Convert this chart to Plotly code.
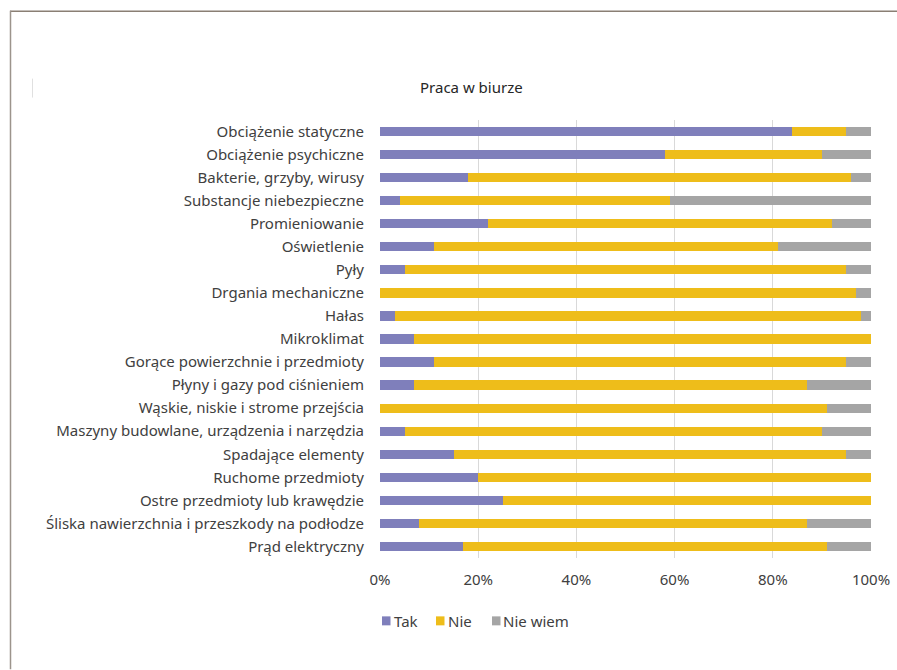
import plotly.graph_objects as go

categories = [
    "Obciążenie statyczne",
    "Obciążenie psychiczne",
    "Bakterie, grzyby, wirusy",
    "Substancje niebezpieczne",
    "Promieniowanie",
    "Oświetlenie",
    "Pyły",
    "Drgania mechaniczne",
    "Hałas",
    "Mikroklimat",
    "Gorące powierzchnie i przedmioty",
    "Płyny i gazy pod ciśnieniem",
    "Wąskie, niskie i strome przejścia",
    "Maszyny budowlane, urządzenia i narzędzia",
    "Spadające elementy",
    "Ruchome przedmioty",
    "Ostre przedmioty lub krawędzie",
    "Śliska nawierzchnia i przeszkody na podłodze",
    "Prąd elektryczny",
]
tak = [84, 58, 18, 4, 22, 11, 5, 0, 3, 7, 11, 7, 0, 5, 15, 20, 25, 8, 17]
nie = [11, 32, 78, 55, 70, 70, 90, 97, 95, 93, 84, 80, 91, 85, 80, 80, 75, 79, 74]
nie_wiem = [5, 10, 4, 41, 8, 19, 5, 3, 2, 0, 5, 13, 9, 10, 5, 0, 0, 13, 9]

series_names = ["Tak", "Nie", "Nie wiem"]
series_values = [tak, nie, nie_wiem]
series_colors = ["#7f7fbb", "#eebd1a", "#a5a5a5"]

W, H = 897, 670
L, R, T, B = 380, 871, 119.5, 558.5
pw, ph = R - L, B - T

def px(x):
    return (x - L) / pw

def py(y):
    return (B - y) / ph

font_family = "Noto Sans"
txt_col = "#404040"
fs = 15

fig = go.Figure()
for name, vals, col in zip(series_names, series_values, series_colors):
    fig.add_trace(go.Bar(
        y=categories, x=vals, name=name, orientation="h",
        marker=dict(color=col, line=dict(width=0)),
        showlegend=False,
    ))

# manual compact legend (squares + labels)
legend_sq_x = [382, 436, 492]
legend_txt_x = [391.5, 445.5, 501]
legend_y = 621.5
shapes = []
annotations = []
for name, col, sx, tx in zip(series_names, series_colors, legend_sq_x, legend_txt_x):
    shapes.append(dict(type="rect", xref="paper", yref="paper",
                       x0=px(sx), x1=px(sx + 8.5), y0=py(legend_y - 4.5), y1=py(legend_y + 4.5),
                       fillcolor=col, line=dict(width=0)))
    annotations.append(dict(text=name, x=px(tx), y=py(legend_y), xref="paper", yref="paper",
                            showarrow=False, xanchor="left", yanchor="middle",
                            font=dict(size=fs, color=txt_col)))

annotations.append(dict(text="Praca w biurze", x=px(471.5), y=py(86), xref="paper", yref="paper",
                        showarrow=False, xanchor="center", yanchor="middle",
                        font=dict(size=fs, color="#262626")))

shapes += [
    dict(type="line", xref="paper", yref="paper", x0=px(10), x1=px(897), y0=py(10.5), y1=py(10.5),
         line=dict(color="#8a7f74", width=1.5)),
    dict(type="line", xref="paper", yref="paper", x0=px(10.5), x1=px(10.5), y0=py(10), y1=py(670),
         line=dict(color="#9c948c", width=1.5)),
    dict(type="line", xref="paper", yref="paper", x0=px(32.5), x1=px(32.5), y0=py(78), y1=py(97),
         line=dict(color="#e0e0e0", width=1)),
]

fig.update_layout(
    width=W, height=H,
    barmode="stack",
    bargap=0.6,
    margin=dict(l=L, r=W - R, t=T, b=H - B, pad=0, autoexpand=False),
    paper_bgcolor="white",
    plot_bgcolor="white",
    font=dict(family=font_family, size=fs, color=txt_col),
    showlegend=False,
    xaxis=dict(
        range=[0, 100], tickvals=[0, 20, 40, 60, 80, 100],
        ticktext=["0%", "20%", "40%", "60%", "80%", "100%"],
        showgrid=True, gridcolor="#d9d9d9", gridwidth=1,
        zeroline=False, showline=False, ticks="",
        tickfont=dict(size=fs, color=txt_col),
        ticklabelstandoff=11,
        automargin=False,
    ),
    yaxis=dict(
        autorange="reversed", showgrid=False, zeroline=False, showline=False,
        ticks="", tickfont=dict(size=fs, color=txt_col),
        ticklabelstandoff=15,
        automargin=False,
    ),
    annotations=annotations,
    shapes=shapes,
)

fig.write_html("out.html", config={"displayModeBar": False})
